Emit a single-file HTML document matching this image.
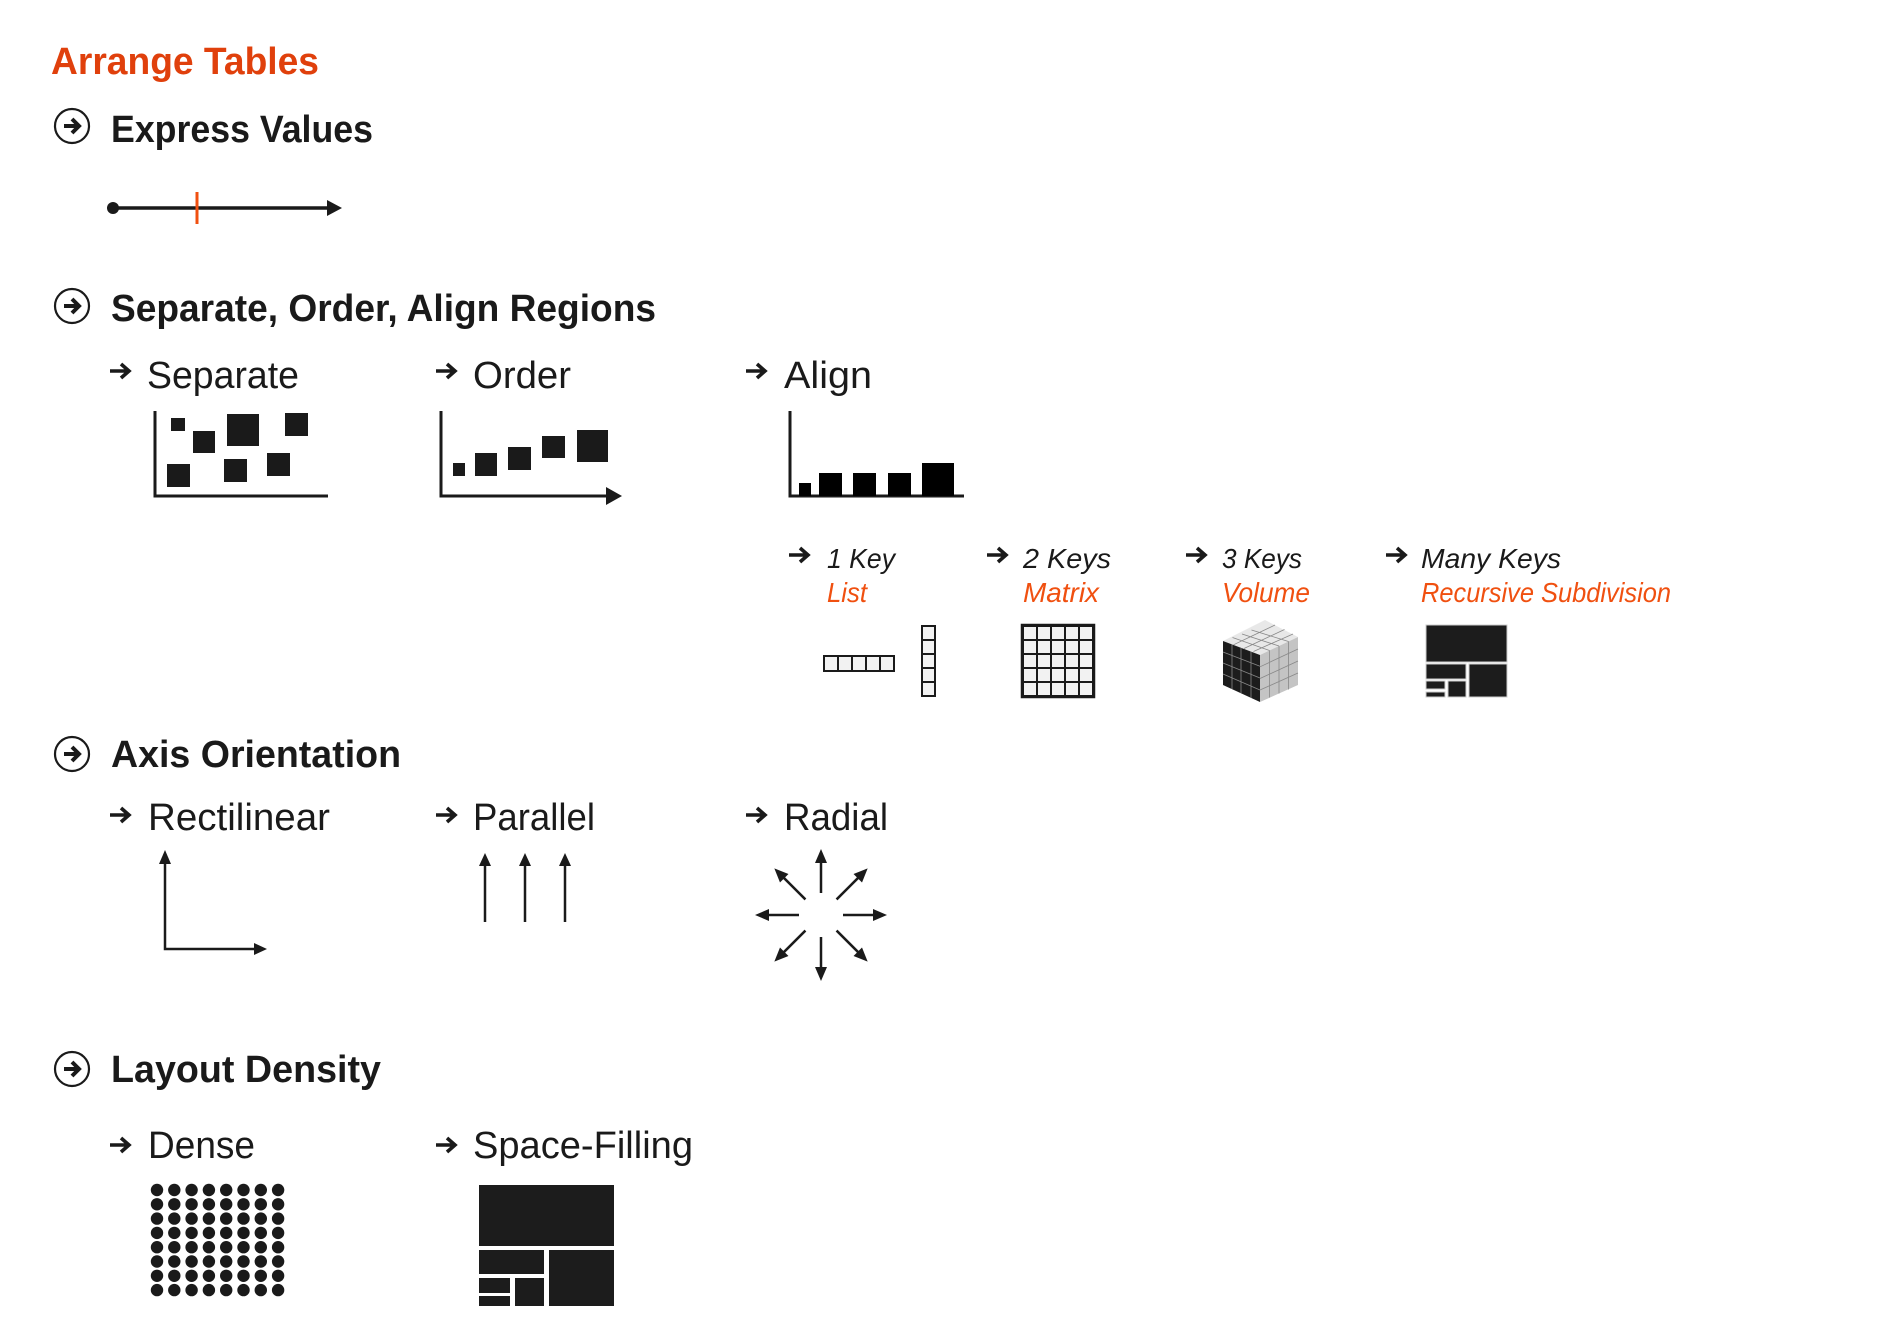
<!DOCTYPE html>
<html><head><meta charset="utf-8"><style>
html,body{margin:0;padding:0;background:#fff;}
svg{display:block;}
text{font-family:"Liberation Sans",sans-serif;}
</style></head><body>
<svg width="1900" height="1331" viewBox="0 0 1900 1331" xmlns="http://www.w3.org/2000/svg">
<defs>
<g id="circ"><circle cx="0" cy="0" r="17" fill="none" stroke="#1a1a1a" stroke-width="2.2"/><path d="M-8,0 H6 M0,-7 L7,0 L0,7" fill="none" stroke="#1a1a1a" stroke-width="4" stroke-linejoin="miter"/></g>
<g id="sarr"><path d="M0,0 H18 M11,-7 L19,0 L11,7" fill="none" stroke="#1a1a1a" stroke-width="3.6"/></g>
</defs>

<text x="51" y="74" font-size="38" font-weight="bold" fill="#e0400c" textLength="268" lengthAdjust="spacingAndGlyphs">Arrange Tables</text>

<use href="#circ" x="72" y="126"/>
<text x="111" y="142" font-size="38" font-weight="bold" fill="#1a1a1a" textLength="262" lengthAdjust="spacingAndGlyphs">Express Values</text>
<line x1="113" y1="208" x2="333" y2="208" stroke="#1a1a1a" stroke-width="3.5"/>
<circle cx="113" cy="208" r="6" fill="#1a1a1a"/>
<path d="M327,200 L342,208 L327,216 z" fill="#1a1a1a"/>
<line x1="197" y1="192" x2="197" y2="224" stroke="#f05010" stroke-width="3"/>

<use href="#circ" x="72" y="306"/>
<text x="111" y="321" font-size="38" font-weight="bold" fill="#1a1a1a" textLength="545" lengthAdjust="spacingAndGlyphs">Separate, Order, Align Regions</text>

<use href="#sarr" x="110" y="371"/>
<text x="147" y="388" font-size="38" fill="#1a1a1a" textLength="152" lengthAdjust="spacingAndGlyphs">Separate</text>
<use href="#sarr" x="436" y="371"/>
<text x="473" y="388" font-size="38" fill="#1a1a1a" textLength="98" lengthAdjust="spacingAndGlyphs">Order</text>
<use href="#sarr" x="746" y="371"/>
<text x="784" y="388" font-size="38" fill="#1a1a1a" textLength="88" lengthAdjust="spacingAndGlyphs">Align</text>

<path d="M155,411 V496 H328" fill="none" stroke="#1a1a1a" stroke-width="3"/>
<g fill="#1a1a1a">
<rect x="171" y="418" width="14" height="13"/>
<rect x="193" y="431" width="22" height="22"/>
<rect x="227" y="414" width="32" height="32"/>
<rect x="285" y="413" width="23" height="23"/>
<rect x="167" y="464" width="23" height="23"/>
<rect x="224" y="459" width="23" height="23"/>
<rect x="267" y="453" width="23" height="23"/>
</g>
<path d="M441,411 V496 H610" fill="none" stroke="#1a1a1a" stroke-width="3"/>
<path d="M606,487 L622,496 L606,505 z" fill="#1a1a1a"/>
<g fill="#1a1a1a">
<rect x="453" y="463" width="12" height="13"/>
<rect x="475" y="453" width="22" height="23"/>
<rect x="508" y="447" width="23" height="23"/>
<rect x="542" y="436" width="23" height="22"/>
<rect x="577" y="430" width="31" height="32"/>
</g>
<path d="M790,411 V496 H964" fill="none" stroke="#1a1a1a" stroke-width="3"/>
<g fill="#000">
<rect x="799" y="483" width="12" height="13"/>
<rect x="819" y="473" width="23" height="23"/>
<rect x="853" y="473" width="23" height="23"/>
<rect x="888" y="473" width="23" height="23"/>
<rect x="922" y="463" width="32" height="33"/>
</g>

<g font-style="italic" font-size="28">
<use href="#sarr" x="789" y="555"/>
<text x="827" y="568" fill="#1a1a1a" textLength="68" lengthAdjust="spacingAndGlyphs">1 Key</text>
<text x="827" y="602" fill="#f05010" textLength="40" lengthAdjust="spacingAndGlyphs">List</text>
<use href="#sarr" x="987" y="555"/>
<text x="1023" y="568" fill="#1a1a1a" textLength="88" lengthAdjust="spacingAndGlyphs">2 Keys</text>
<text x="1023" y="602" fill="#f05010" textLength="76" lengthAdjust="spacingAndGlyphs">Matrix</text>
<use href="#sarr" x="1186" y="555"/>
<text x="1222" y="568" fill="#1a1a1a" textLength="80" lengthAdjust="spacingAndGlyphs">3 Keys</text>
<text x="1222" y="602" fill="#f05010" textLength="88" lengthAdjust="spacingAndGlyphs">Volume</text>
<use href="#sarr" x="1386" y="555"/>
<text x="1421" y="568" fill="#1a1a1a" textLength="140" lengthAdjust="spacingAndGlyphs">Many Keys</text>
<text x="1421" y="602" fill="#f05010" textLength="250" lengthAdjust="spacingAndGlyphs">Recursive Subdivision</text>
</g>

<g fill="#f2f2f2" stroke="#1a1a1a" stroke-width="2">
<rect x="824" y="656" width="14" height="15"/><rect x="838" y="656" width="14" height="15"/><rect x="852" y="656" width="14" height="15"/><rect x="866" y="656" width="14" height="15"/><rect x="880" y="656" width="14" height="15"/>
<rect x="922" y="626" width="13" height="14"/><rect x="922" y="640" width="13" height="14"/><rect x="922" y="654" width="13" height="14"/><rect x="922" y="668" width="13" height="14"/><rect x="922" y="682" width="13" height="14"/>
</g>
<rect x="1023" y="626" width="70" height="70" fill="#f2f2f2" stroke="#1a1a1a" stroke-width="2"/>
<g stroke="#1a1a1a" stroke-width="2">
<line x1="1037" y1="626" x2="1037" y2="696"/><line x1="1051" y1="626" x2="1051" y2="696"/><line x1="1065" y1="626" x2="1065" y2="696"/><line x1="1079" y1="626" x2="1079" y2="696"/>
<line x1="1023" y1="640" x2="1093" y2="640"/><line x1="1023" y1="654" x2="1093" y2="654"/><line x1="1023" y1="668" x2="1093" y2="668"/><line x1="1023" y1="682" x2="1093" y2="682"/>
</g>
<rect x="1022" y="625" width="72" height="72" fill="none" stroke="#1a1a1a" stroke-width="2.5"/>

<polygon points="1265,620 1298,637 1260,655 1223,641" fill="#e8e8e8"/>
<polygon points="1223,641 1260,655 1260,702 1223,685" fill="#1c1c1c"/>
<polygon points="1260,655 1298,637 1298,685 1260,702" fill="#c4c4c4"/>
<g stroke="#888" stroke-width="0.8" fill="none">
<path d="M1232,644.5 V689 M1241,648 V693 M1251,651.5 V698 M1223,652 L1260,666.3 M1223,663 L1260,678 M1223,674 L1260,690"/>
<path d="M1269.5,650.5 V697.5 M1279,646 V693.5 M1288.5,641.5 V689.5 M1260,666.8 L1298,649 M1260,678.5 L1298,661 M1260,690 L1298,673"/>
<path d="M1232.5,637.5 L1269.5,650.5 M1242,634 L1279,646 M1251.5,630 L1288.5,641.5 M1233.5,644.8 L1275,625 M1244,648.5 L1284.5,629.5 M1253.5,651.5 L1293,634"/>
</g>
<g fill="#1c1c1c" stroke="#ccc" stroke-width="1">
<rect x="1426" y="625" width="81" height="37"/>
<rect x="1426" y="664" width="40" height="15"/>
<rect x="1469" y="664" width="38" height="33"/>
<rect x="1426" y="681" width="19" height="8"/>
<rect x="1426" y="692" width="19" height="5"/>
<rect x="1448" y="681" width="18" height="16"/>
</g>

<use href="#circ" x="72" y="754"/>
<text x="111" y="767" font-size="38" font-weight="bold" fill="#1a1a1a" textLength="290" lengthAdjust="spacingAndGlyphs">Axis Orientation</text>

<use href="#sarr" x="110" y="815"/>
<text x="148" y="830" font-size="38" fill="#1a1a1a" textLength="182" lengthAdjust="spacingAndGlyphs">Rectilinear</text>
<use href="#sarr" x="436" y="815"/>
<text x="473" y="830" font-size="38" fill="#1a1a1a" textLength="122" lengthAdjust="spacingAndGlyphs">Parallel</text>
<use href="#sarr" x="746" y="815"/>
<text x="784" y="830" font-size="38" fill="#1a1a1a" textLength="104" lengthAdjust="spacingAndGlyphs">Radial</text>

<g stroke="#1a1a1a" stroke-width="2.5" fill="none">
<path d="M165,862 V949 H256"/>
<line x1="485" y1="922" x2="485" y2="864"/>
<line x1="525" y1="922" x2="525" y2="864"/>
<line x1="565" y1="922" x2="565" y2="864"/>
</g>
<g fill="#1a1a1a">
<path d="M159,864 L165,850 L171,864 z"/>
<path d="M254,943 L267,949 L254,955 z"/>
<path d="M479,866 L485,853 L491,866 z"/>
<path d="M519,866 L525,853 L531,866 z"/>
<path d="M559,866 L565,853 L571,866 z"/>
</g>
<g transform="translate(821,915)">
<g id="ray"><line x1="0" y1="-22" x2="0" y2="-54" stroke="#1a1a1a" stroke-width="2.5"/><path d="M-6,-52 L0,-66 L6,-52 z" fill="#1a1a1a"/></g>
<use href="#ray" transform="rotate(45)"/>
<use href="#ray" transform="rotate(90)"/>
<use href="#ray" transform="rotate(135)"/>
<use href="#ray" transform="rotate(180)"/>
<use href="#ray" transform="rotate(225)"/>
<use href="#ray" transform="rotate(270)"/>
<use href="#ray" transform="rotate(315)"/>
</g>

<use href="#circ" x="72" y="1069"/>
<text x="111" y="1082" font-size="38" font-weight="bold" fill="#1a1a1a" textLength="270" lengthAdjust="spacingAndGlyphs">Layout Density</text>

<use href="#sarr" x="110" y="1145"/>
<text x="148" y="1158" font-size="38" fill="#1a1a1a" textLength="107" lengthAdjust="spacingAndGlyphs">Dense</text>
<use href="#sarr" x="436" y="1145"/>
<text x="473" y="1158" font-size="38" fill="#1a1a1a" textLength="220" lengthAdjust="spacingAndGlyphs">Space-Filling</text>

<g fill="#1a1a1a">
<g id="drow">
<circle cx="157" cy="1190" r="6.2"/><circle cx="174.3" cy="1190" r="6.2"/><circle cx="191.6" cy="1190" r="6.2"/><circle cx="208.9" cy="1190" r="6.2"/><circle cx="226.2" cy="1190" r="6.2"/><circle cx="243.5" cy="1190" r="6.2"/><circle cx="260.8" cy="1190" r="6.2"/><circle cx="278.1" cy="1190" r="6.2"/>
</g>
<use href="#drow" y="14.3"/><use href="#drow" y="28.6"/><use href="#drow" y="42.9"/><use href="#drow" y="57.2"/><use href="#drow" y="71.5"/><use href="#drow" y="85.8"/><use href="#drow" y="100.1"/>
</g>

<g fill="#1c1c1c">
<rect x="479" y="1185" width="135" height="61"/>
<rect x="479" y="1250" width="65" height="24"/>
<rect x="549" y="1250" width="65" height="56"/>
<rect x="479" y="1278" width="31" height="15"/>
<rect x="479" y="1296" width="31" height="10"/>
<rect x="515" y="1278" width="29" height="28"/>
</g>
</svg>
</body></html>
